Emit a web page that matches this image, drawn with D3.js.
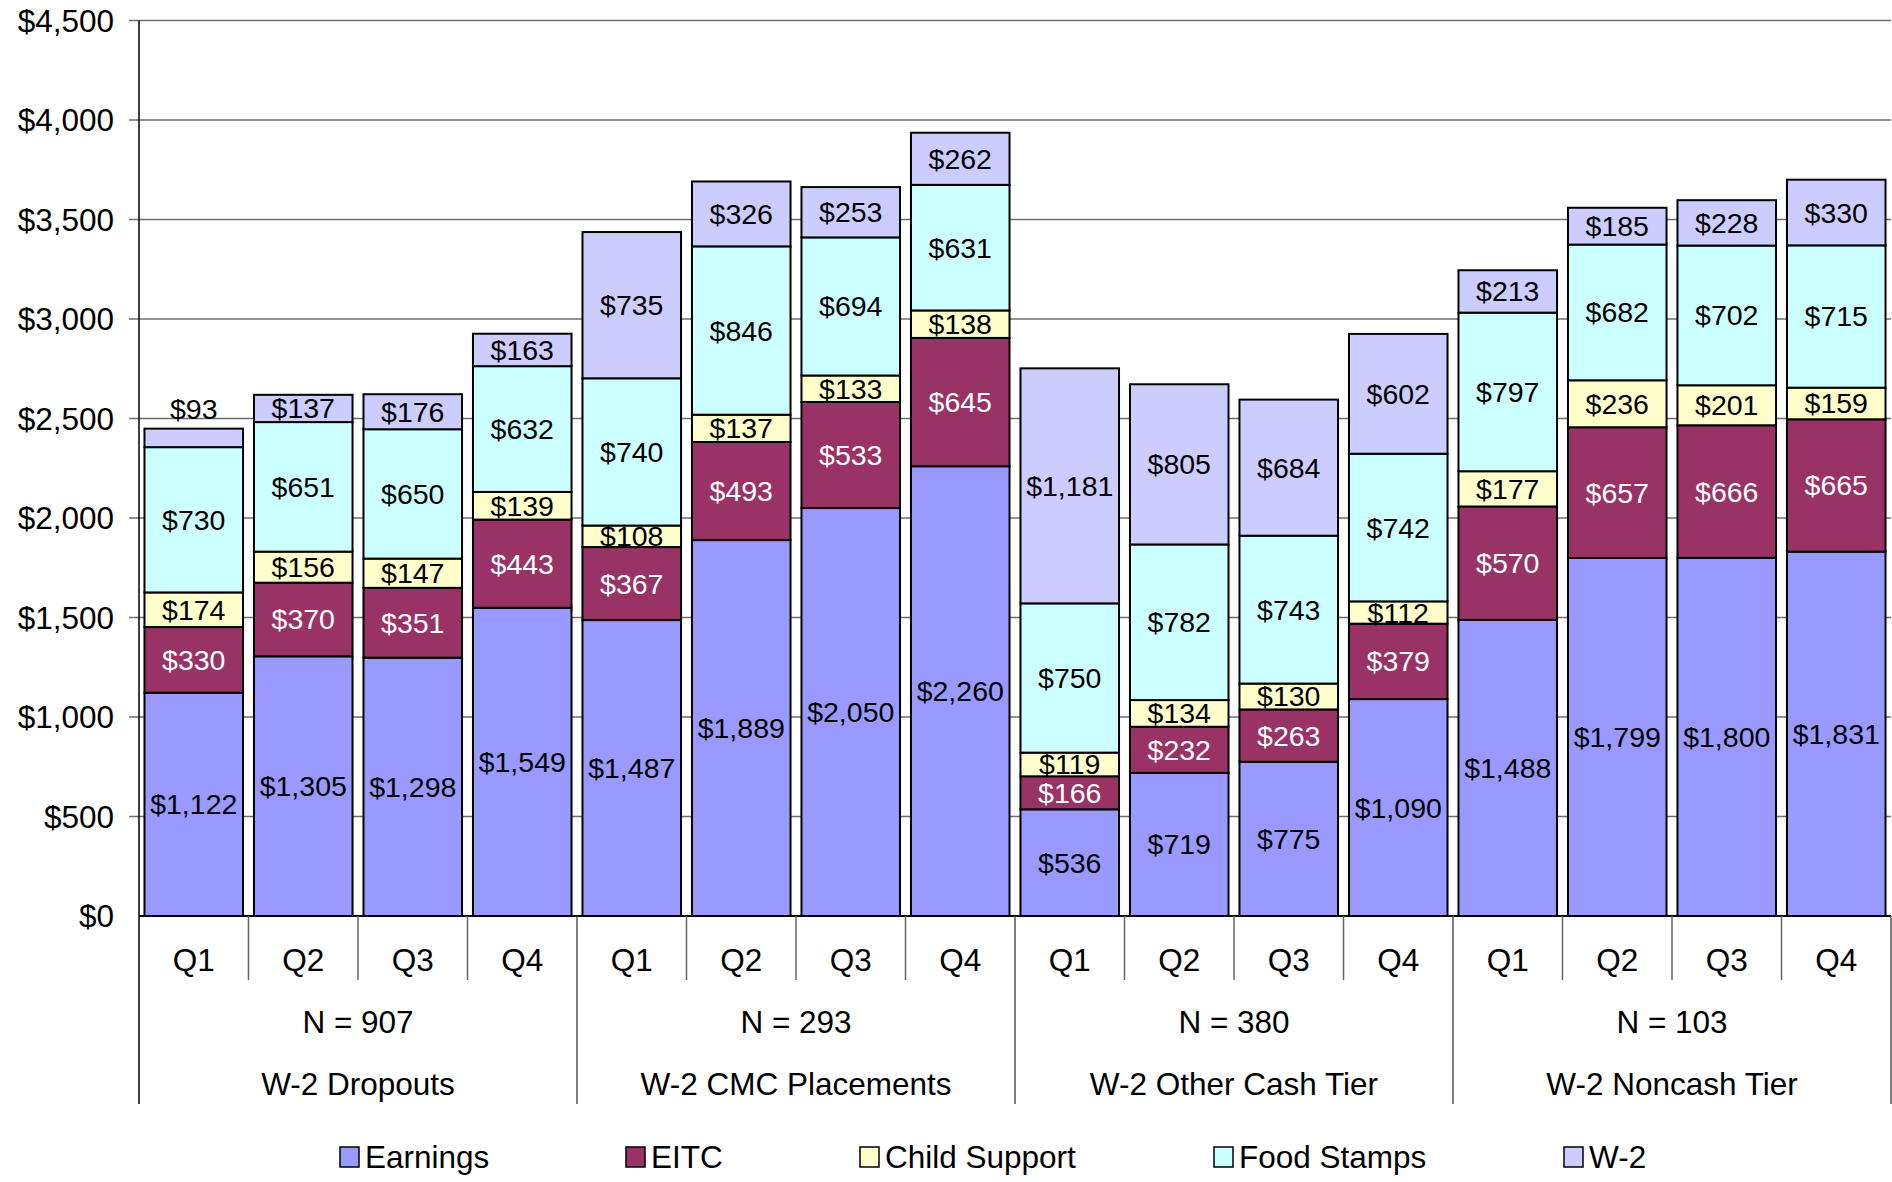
<!DOCTYPE html>
<meta charset="utf-8">
<style>
body { margin: 0; background: #fff; }
svg text { font-family: "Liberation Sans", Arial, sans-serif; }
</style>
<body>
<svg width="1892" height="1182"></svg>
</body>
<script src="https://d3js.org/d3.v7.min.js"></script>
<script>
// data
const groups = ["W-2 Dropouts", "W-2 CMC Placements", "W-2 Other Cash Tier", "W-2 Noncash Tier"];
const groupN = ["N = 907", "N = 293", "N = 380", "N = 103"];
const quarters = ["Q1", "Q2", "Q3", "Q4"];
const seriesNames = ["Earnings", "EITC", "Child Support", "Food Stamps", "W-2"];

const earnings     = [1122, 1305, 1298, 1549, 1487, 1889, 2050, 2260, 536, 719, 775, 1090, 1488, 1799, 1800, 1831];
const eitc         = [330, 370, 351, 443, 367, 493, 533, 645, 166, 232, 263, 379, 570, 657, 666, 665];
const childSupport = [174, 156, 147, 139, 108, 137, 133, 138, 119, 134, 130, 112, 177, 236, 201, 159];
const foodStamps   = [730, 651, 650, 632, 740, 846, 694, 631, 750, 782, 743, 742, 797, 682, 702, 715];
const w2           = [93, 137, 176, 163, 735, 326, 253, 262, 1181, 805, 684, 602, 213, 185, 228, 330];

const yTicks = [0, 500, 1000, 1500, 2000, 2500, 3000, 3500, 4000, 4500];

const colors = ["#9999FF", "#993366", "#FFFFCC", "#CCFFFF", "#CCCCFF"];
const labelColors = ["#000", "#fff", "#000", "#000", "#000"];

const svg = d3.select("svg");
const plotLeft = 139, plotRight = 1891, plotTop = 20.5, plotBottom = 916;
const axisFont = 31.5, valueFont = 28.5;

// build rows
const rows = [];
groups.forEach((g, gi) => quarters.forEach((q, qi) => {
  const i = gi * 4 + qi;
  rows.push({key: i, group: g, quarter: q,
    "Earnings": earnings[i], "EITC": eitc[i], "Child Support": childSupport[i],
    "Food Stamps": foodStamps[i], "W-2": w2[i]});
}));

const x = d3.scaleBand().domain(rows.map(d => d.key)).range([plotLeft, plotRight])
  .paddingInner(0.1).paddingOuter(0.05);
const y = d3.scaleLinear().domain([0, 4500]).range([plotBottom, plotTop]);
const step = x.step();

// gridlines
svg.append("g").selectAll("line").data(yTicks.slice(1)).join("line")
  .attr("x1", plotLeft - 10).attr("x2", plotRight)
  .attr("y1", d => y(d)).attr("y2", d => y(d))
  .attr("stroke", "#6e6e6e").attr("stroke-width", 1.5);

// y axis labels
const fmt = d3.format("$,");
svg.append("g").selectAll("text").data(yTicks).join("text")
  .attr("x", plotLeft - 25).attr("y", d => y(d)).attr("dy", "0.35em")
  .attr("text-anchor", "end").attr("font-size", axisFont).text(d => fmt(d));

// stacked bars
const stack = d3.stack().keys(seriesNames)(rows);
const layer = svg.append("g").selectAll("g").data(stack).join("g")
  .attr("fill", (d, i) => colors[i]);
layer.selectAll("rect").data(d => d).join("rect")
  .attr("x", d => x(d.data.key)).attr("width", x.bandwidth())
  .attr("y", d => y(d[1])).attr("height", d => y(d[0]) - y(d[1]))
  .attr("stroke", "#000").attr("stroke-width", 2);

// value labels (very thin segments get their label above the bar)
stack.forEach((s, si) => {
  svg.append("g").selectAll("text").data(s).join("text")
    .attr("x", d => x(d.data.key) + x.bandwidth() / 2)
    .attr("y", d => (d[1] - d[0]) < 100 ? y(d[1]) - 20 : y((d[0] + d[1]) / 2))
    .attr("dy", "0.35em").attr("text-anchor", "middle").attr("font-size", valueFont)
    .attr("fill", labelColors[si])
    .text(d => fmt(d[1] - d[0]));
});

// left axis line
svg.append("line").attr("x1", plotLeft).attr("x2", plotLeft).attr("y1", plotTop).attr("y2", 1104)
  .attr("stroke", "#000").attr("stroke-width", 1.5);
// baseline
svg.append("line").attr("x1", plotLeft).attr("x2", plotRight).attr("y1", plotBottom).attr("y2", plotBottom)
  .attr("stroke", "#000").attr("stroke-width", 2);

// category separators
svg.append("g").selectAll("line").data(d3.range(1, 17)).join("line")
  .attr("x1", d => plotLeft + d * step).attr("x2", d => plotLeft + d * step)
  .attr("y1", plotBottom).attr("y2", d => d % 4 === 0 ? 1104 : 980)
  .attr("stroke", d => d % 4 === 0 ? "#555" : "#666").attr("stroke-width", 1.5);

// quarter labels
svg.append("g").selectAll("text").data(rows).join("text")
  .attr("x", d => x(d.key) + x.bandwidth() / 2).attr("y", 960).attr("dy", "0.35em")
  .attr("text-anchor", "middle").attr("font-size", axisFont).text(d => d.quarter);

// group labels
groups.forEach((g, gi) => {
  const cx = plotLeft + (gi * 4 + 2) * step;
  svg.append("text").attr("x", cx).attr("y", 1022).attr("dy", "0.35em")
    .attr("text-anchor", "middle").attr("font-size", axisFont).text(groupN[gi]);
  svg.append("text").attr("x", cx).attr("y", 1084).attr("dy", "0.35em")
    .attr("text-anchor", "middle").attr("font-size", axisFont).text(g);
});

// legend
const legendX = [340, 626, 860, 1214, 1564];
const lg = svg.append("g").selectAll("g").data(seriesNames).join("g")
  .attr("transform", (d, i) => `translate(${legendX[i]},1157)`);
lg.append("rect").attr("x", 0).attr("y", -10).attr("width", 19).attr("height", 20)
  .attr("fill", (d, i) => colors[i]).attr("stroke", "#000").attr("stroke-width", 1.5);
lg.append("text").attr("x", 25).attr("dy", "0.35em").attr("font-size", axisFont).text(d => d);
</script>
